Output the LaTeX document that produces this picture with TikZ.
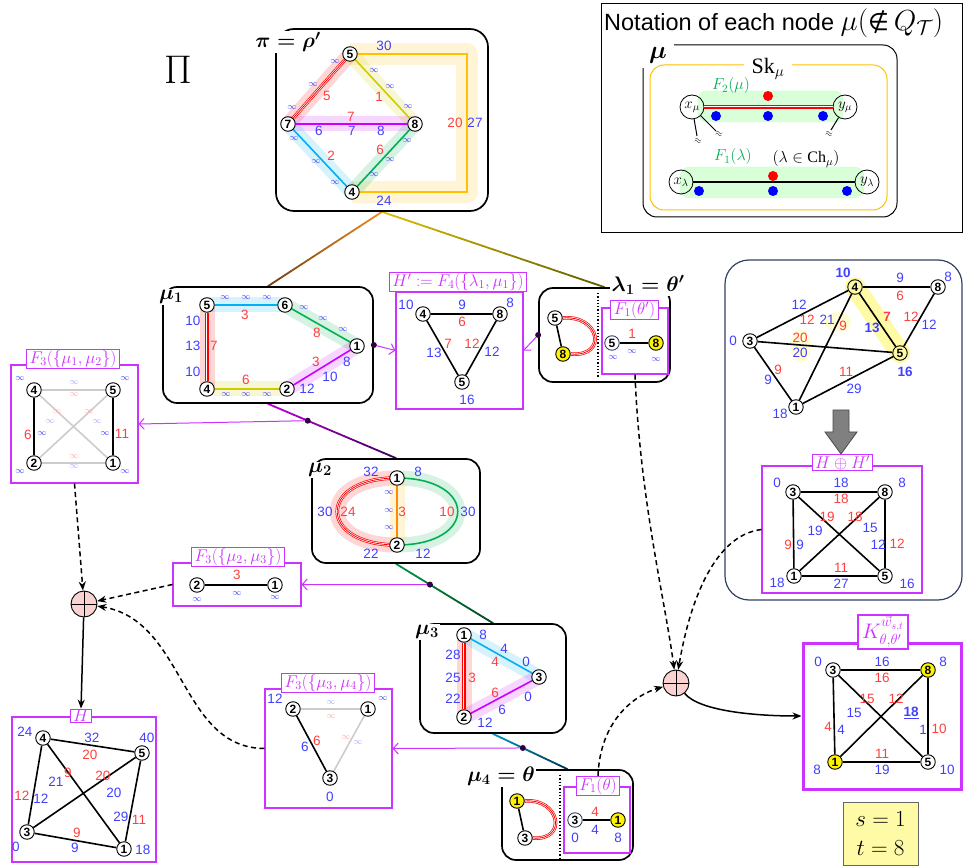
\RequirePackage{fix-cm}
\documentclass[tikz,border=0pt]{standalone}
\usepackage{amsmath,amssymb}
\usepackage{fontspec}
\setmainfont{Liberation Sans}
\newfontfamily\serifA{Liberation Serif}
\newfontfamily\symfont{DejaVu Sans}
\usetikzlibrary{calc,arrows.meta}
\definecolor{lblue}{RGB}{64,64,255}
\definecolor{lred}{RGB}{255,64,64}
\definecolor{mag}{RGB}{204,51,255}
\definecolor{epur}{RGB}{204,0,255}
\definecolor{ecyan}{RGB}{0,176,240}
\definecolor{egreen}{RGB}{0,176,80}
\definecolor{eolive}{RGB}{204,204,0}
\definecolor{eorange}{RGB}{255,192,0}
\definecolor{navy}{RGB}{50,64,100}
\definecolor{dpur}{RGB}{48,0,64}
\definecolor{pinkf}{RGB}{250,210,210}
\definecolor{fgreen}{RGB}{0,176,80}
\definecolor{cbrown}{RGB}{110,60,20}
\definecolor{corange}{RGB}{235,140,30}
\definecolor{cyel}{RGB}{220,190,0}
\definecolor{colive}{RGB}{90,90,0}
\definecolor{cmag}{RGB}{190,0,220}
\definecolor{cdpur}{RGB}{60,0,80}
\definecolor{cgreen}{RGB}{0,150,70}
\definecolor{cdgreen}{RGB}{0,70,30}
\definecolor{ccyan}{RGB}{0,150,200}
\definecolor{cteal}{RGB}{0,50,70}
\pgfdeclarelayer{back}
\pgfdeclarelayer{mid}
\pgfsetlayers{back,mid,main}
\newcounter{lb}
\newcommand\NB[3][]{\stepcounter{lb}\node[bl,#1] (lb\arabic{lb}) at (#2) {#3};}
\newcommand\NR[3][]{\stepcounter{lb}\node[rd,#1] (lb\arabic{lb}) at (#2) {#3};}
\newcommand\NI[1]{\stepcounter{lb}\node[inf] (lb\arabic{lb}) at (#1) {$\infty$};}
\newcommand\FR[1]{\stepcounter{lb}\node[inf,text=lred!45] (lb\arabic{lb}) at (#1) {$\infty$};}
\newcommand\FB[1]{\stepcounter{lb}\node[inf,text=lblue!45] (lb\arabic{lb}) at (#1) {$\infty$};}
% colour-graded connector between two anchors
\newcommand\gradline[4]{%
  \foreach \gi in {0,...,19}{%
    \pgfmathtruncatemacro\gp{100-\gi*5}%
    \draw[line width=1.8pt,line cap=round,draw=#3!\gp!#4] ($(#1)!\gi/20!(#2)$) -- ($(#1)!{(\gi+1)/20}!(#2)$);}}
\begin{document}
\begin{tikzpicture}[x=1pt,y=-1pt,
  vtx/.style={circle,draw,line width=0.9pt,fill=white,inner sep=0pt,minimum size=14.5pt,font=\fontsize{12}{12}\selectfont\bfseries},
  yvtx/.style={vtx,fill=yellow},
  hvtx/.style={vtx,fill=yellow!35},
  bl/.style={text=lblue,inner sep=0pt,font=\fontsize{13.5}{13.5}\selectfont},
  rd/.style={text=lred,inner sep=0pt,font=\fontsize{13.5}{13.5}\selectfont},
  bb/.style={font=\fontsize{13.5}{13.5}\selectfont\bfseries},
  inf/.style={text=lblue,inner sep=0pt,font=\fontsize{9}{9}\selectfont},
  ed/.style={line width=1.6pt},
  ged/.style={line width=1.6pt,black!20},
  band/.style={line width=15pt,line cap=round,line join=round,opacity=0.16},
  tri/.style={draw=red,line width=3.6pt,postaction={draw=white,line width=2.2pt},postaction={draw=red,line width=0.8pt}},
  bx/.style={draw,line width=1.7pt,rounded corners=14pt,inner sep=0pt},
  mbx/.style={draw=mag,line width=1.1pt,inner sep=0pt},
  mtl/.style={draw=mag,line width=1.1pt,fill=white,text=mag,inner xsep=3pt,inner ysep=1pt,font=\fontsize{17}{17}\selectfont},
  blab/.style={fill=white,inner sep=1.5pt,font=\fontsize{21}{21}\selectfont},
  jdot/.style={circle,fill=dpur,inner sep=0pt,minimum size=6pt},
  parr/.style={draw=mag,line width=1pt,-{Straight Barb[length=5pt,width=11pt]}},
  darr/.style={line width=1.5pt,dash pattern=on 5pt off 3.5pt,-{Stealth[length=9pt,width=7pt]}},
  sarr/.style={line width=1.5pt,-{Stealth[length=9pt,width=7pt]}},
  oplus/.style={circle,draw,line width=0.9pt,fill=pinkf,minimum size=26pt,inner sep=0pt,
     path picture={\draw[line width=0.9pt] (path picture bounding box.north) -- (path picture bounding box.south)
        (path picture bounding box.west) -- (path picture bounding box.east);}},
  rdot/.style={circle,fill=red,inner sep=0pt,minimum size=10pt},
  bdot/.style={circle,fill=blue,inner sep=0pt,minimum size=10pt},
  ring/.style={circle,draw,line width=0.8pt,inner sep=0pt,minimum size=24pt,font=\fontsize{15}{15}\selectfont},
]
\path[use as bounding box] (0,0) rectangle (964,866);

% ================= Pi =================
\node[font=\fontsize{40}{40}\selectfont] (bigpi) at (178,70) {$\Pi$};
\node[bx,rounded corners=18pt,minimum width=212pt,minimum height=182pt] (PI) at (382,120) {};
\node[blab] (PIlab) at (288,42) {$\boldsymbol{\pi=\rho'}$};
\node[vtx] (p5) at (350,54) {5};
\node[vtx] (p7) at (288,124) {7};
\node[vtx] (p8) at (415,124) {8};
\node[vtx] (p4) at (352,192) {4};
\coordinate (pc1) at (467,54);
\coordinate (pc2) at (467,192);
\begin{pgfonlayer}{back}
  \draw[band,eorange,line width=22pt,line cap=butt] (p5.center) -- (pc1) -- (pc2) -- (p4.center);
  \draw[band,red] (p5.center) -- (p7.center);
  \draw[band,eolive] (p5.center) -- (p8.center);
  \draw[band,epur] (p7.center) -- (p8.center);
  \draw[band,ecyan] (p7.center) -- (p4.center);
  \draw[band,egreen] (p4.center) -- (p8.center);
\end{pgfonlayer}
\begin{pgfonlayer}{mid}
  \draw[tri] (p5) -- (p7);
  \draw[ed,eolive] (p5) -- (p8);
  \draw[ed,epur] (p7) -- (p8);
  \draw[ed,ecyan] (p7) -- (p4);
  \draw[ed,egreen] (p4) -- (p8);
  \draw[ed,eorange] (p5) -- (pc1) -- (pc2) -- (p4);
\end{pgfonlayer}
\NB{384,46}{30}
\NI{335,62} \NI{313,85} \NR{327,96}{5} \NI{292,108}
\NI{374,71} \NR{379,97}{1} \NI{390,87} \NI{408,107}
\NR{351,117}{7} \NB{319,131}{6} \NB{352,131}{7} \NB{381,131}{8}
\NI{294,139} \NI{316,162} \NR{331,156}{2} \NI{335,183}
\NR{380,150}{6} \NI{407,141} \NI{390,160} \NI{374,175}
\NR{455,123}{20} \NB{475,123}{27}
\NB{384,201}{24}

% ================= notation panel =================
\node[draw,line width=1pt,minimum width=361pt,minimum height=229pt,inner sep=0pt] (NOTE) at (781.5,118.5) {};
\node[anchor=west,inner sep=0pt,font=\fontsize{23.5}{23.5}\selectfont] (notet) at (604,23) {Notation of each node {\fontsize{29}{29}\selectfont$\mu(\text{\symfont\fontsize{24}{24}\selectfont ∉}\,Q_{\mathcal{T}})$}};
\node[draw,line width=1pt,rounded corners=14pt,minimum width=254pt,minimum height=172pt,inner sep=0pt] (MU) at (770,131) {};
\node[fill=white,inner sep=0pt,minimum width=32pt,minimum height=26pt,font=\fontsize{25}{25}\selectfont] (MUlab) at (658,55) {$\boldsymbol{\mu}$};
\node[draw=eorange,line width=1pt,rounded corners=14pt,minimum width=237pt,minimum height=145pt,inner sep=0pt] (SK) at (768.5,137.5) {};
\node[fill=white,inner xsep=8pt,inner ysep=2pt,font=\fontsize{22}{22}\selectfont] (SKlab) at (768,69) {{\serifA Sk}$_\mu$};
\node[fill=green!15,draw=green!25,rounded corners=9pt,minimum width=145pt,minimum height=31pt,inner sep=0pt] (F2b) at (770.5,106.5) {};
\node[fill=green!15,draw=green!25,rounded corners=10pt,minimum width=184pt,minimum height=31pt,inner sep=0pt] (F1b) at (772,182.5) {};
\node[ring] (xmu) at (692,107) {$x_\mu$};
\node[ring] (ymu) at (845,107) {$y_\mu$};
\node[ring] (xlam) at (681,182) {$x_\lambda$};
\node[ring] (ylam) at (867,182) {$y_\lambda$};
\draw[tri] (xmu) -- (ymu);
\draw[line width=1.2pt] (xlam) -- (ylam);
\node[rdot] (rdA) at (768,96) {};
\node[bdot] (bdA) at (716,116) {};
\node[bdot] (bdB) at (768,116) {};
\node[bdot] (bdC) at (823,116) {};
\node[rdot] (rdB) at (773,176) {};
\node[bdot] (bdD) at (699,191) {};
\node[bdot] (bdE) at (773,191) {};
\node[bdot] (bdF) at (847,191) {};
\coordinate (tk1) at (697,136);
\coordinate (tk2) at (716,131);
\coordinate (tk3) at (831,130);
\draw[line width=1pt] (xmu) -- (tk1);
\draw[line width=1pt] (xmu) -- (tk2);
\draw[line width=1pt] (ymu) -- (tk3);
\node[font=\fontsize{9}{9}\selectfont,rotate=-15,inner sep=0pt] (ap1) at (698,141) {$\approx$};
\node[font=\fontsize{9}{9}\selectfont,rotate=-15,inner sep=0pt] (ap2) at (719,134) {$\approx$};
\node[font=\fontsize{9}{9}\selectfont,rotate=-15,inner sep=0pt] (ap3) at (829,134) {$\approx$};
\node[text=fgreen,font=\fontsize{16}{16}\selectfont] (F2t) at (731,86) {$F_2(\mu)$};
\node[text=fgreen,font=\fontsize{16}{16}\selectfont] (F1t) at (733,157) {$F_1(\lambda)$};
\node[font=\fontsize{16}{16}\selectfont] (Cht) at (806,159) {$(\lambda\in\text{\serifA Ch}_\mu)$};

% ================= mu_1 =================
\node[bx,minimum width=210pt,minimum height=116pt] (M1) at (268,345) {};
\node[blab] (M1lab) at (171,297) {$\boldsymbol{\mu_1}$};
\node[vtx] (a5) at (207,305) {5};
\node[vtx] (a6) at (285,305) {6};
\node[vtx] (a1) at (357,346) {1};
\node[vtx] (a2) at (287,389) {2};
\node[vtx] (a4) at (207,389) {4};
\begin{pgfonlayer}{back}
  \draw[band,ecyan] (a5.center) -- (a6.center);
  \draw[band,egreen] (a6.center) -- (a1.center);
  \draw[band,epur] (a1.center) -- (a2.center);
  \draw[band,eolive] (a4.center) -- (a2.center);
  \draw[band,red] (a5.center) -- (a4.center);
\end{pgfonlayer}
\begin{pgfonlayer}{mid}
  \draw[ed,ecyan] (a5) -- (a6);
  \draw[ed,egreen] (a6) -- (a1);
  \draw[ed,epur] (a1) -- (a2);
  \draw[ed,eolive] (a4) -- (a2);
  \draw[tri] (a5) -- (a4);
\end{pgfonlayer}
\NI{225,298} \NI{246,298} \NI{267,298} \NR{245,315}{3}
\NI{304,308} \NI{323,319} \NI{343,330} \NR{317,333}{8}
\NR{316,362}{3} \NB{330,377}{10} \NB{347,362}{8} \NB{307,389}{12}
\NR{246,380}{6} \NI{226,395} \NI{246,395} \NI{267,395}
\NB{193,321}{10} \NB{193,346}{13} \NB{193,372}{10} \NR{214,346}{7}

% ================= H' =================
\node[mbx,minimum width=127pt,minimum height=117pt] (HP) at (459.5,350.5) {};
\node[mtl] (tHP) at (458,282) {$H'\mathrel{:=}F_4(\{\lambda_1,\mu_1\})$};
\node[vtx] (hp4) at (423,314) {4};
\node[vtx] (hp8) at (500,314) {8};
\node[vtx] (hp5) at (462,382) {5};
\begin{pgfonlayer}{mid}
  \draw[ed] (hp4) -- (hp8) -- (hp5) -- (hp4);
\end{pgfonlayer}
\NB{406,305}{10} \NB{510,303}{8} \NB{462,305}{9} \NR{462,322}{6}
\NB{434,353}{13} \NR{448,344}{7} \NR{472,344}{12} \NB{492,352}{12} \NB{467,400}{16}

% ================= lambda_1 =================
\node[bx,minimum width=131pt,minimum height=94pt] (L1) at (604.5,335) {};
\node[blab] (L1lab) at (648,285) {$\boldsymbol{\lambda_1=\theta'}$};
\node[vtx] (l5) at (555,318) {5};
\node[yvtx] (l8) at (563,354) {8};
\begin{pgfonlayer}{mid}
  \draw[ed] (l5) -- (l8);
  \draw[tri] (l5.east) to[out=5,in=-5,looseness=2.6] (l8.east);
\end{pgfonlayer}
\coordinate (dvA) at (598,293);
\coordinate (dvB) at (598,378);
\draw[line width=1.3pt,dotted] (dvA) -- (dvB);
\node[mbx,minimum width=66pt,minimum height=66pt] (FL) at (635,341) {};
\node[mtl] (tFL) at (634.5,310) {$F_1(\theta')$};
\node[vtx,draw=navy] (m5) at (612,343) {5};
\node[yvtx] (m8) at (656,343) {8};
\begin{pgfonlayer}{mid}
  \draw[line width=1.2pt] (m5) -- (m8);
\end{pgfonlayer}
\NR{632,334}{1} \NI{632,352} \NI{613,358} \NI{656,360}

% ================= large graph on the right =================
\node[draw=navy,line width=1.2pt,rounded corners=24pt,minimum width=237pt,minimum height=340pt,inner sep=0pt] (BIG) at (843.5,430) {};
\node[hvtx] (r4) at (855,287) {4};
\node[vtx] (r8) at (938,287) {8};
\node[vtx] (r3) at (750,341) {3};
\node[hvtx] (r5) at (900,353) {5};
\node[vtx] (r1) at (796,407) {1};
\begin{pgfonlayer}{back}
  \draw[line width=20pt,line cap=round,yellow,opacity=0.35] (r4.center) -- (r5.center);
  \fill[yellow,opacity=0.18] (838,322) ellipse (13 and 10);
  \fill[yellow,opacity=0.18] (801,346) ellipse (10 and 17);
\end{pgfonlayer}
\begin{pgfonlayer}{mid}
  \draw[ed] (r4) -- (r8);
  \draw[ed] (r4) -- (r3);
  \draw[ed] (r4) -- (r5);
  \draw[ed] (r4) -- (r1);
  \draw[ed] (r3) -- (r5);
  \draw[ed] (r3) -- (r1);
  \draw[ed] (r1) -- (r5);
  \draw[ed] (r8) -- (r5);
\end{pgfonlayer}
\NB[bb]{843,273}{10} \NB{900,278}{9} \NB{948,277}{8} \NR{900,296}{6}
\NB{799,305}{12} \NR{807,320}{12} \NB{827,320}{21} \NR{843,326}{9}
\NR[bb]{887,317}{7} \NB[bb]{872,328}{13} \NR{911,317}{12} \NB{929,325}{12}
\NB{733,341}{0} \NR{800,338}{20} \NB{800,353}{20} \NB[bb]{905,372}{16}
\NR{778,370}{9} \NB{768,380}{9} \NR{846,372}{11} \NB{854,389}{29} \NB{780,414}{18}
\draw[draw=black!70,fill=black!50,line width=0.8pt] (833,410) -- (849,410) -- (849,432) -- (857,432) -- (841,454) -- (825,432) -- (833,432) -- cycle;

% ================= H (+) H' =================
\node[mbx,minimum width=160pt,minimum height=127pt] (HH) at (842,529.5) {};
\node[mtl] (tHH) at (842.5,462.5) {$H\oplus H'$};
\node[vtx] (s3) at (793,492) {3};
\node[vtx] (s8) at (885,492) {8};
\node[vtx] (s1) at (794,576) {1};
\node[vtx] (s5) at (885,576) {5};
\begin{pgfonlayer}{mid}
  \draw[ed] (s3) -- (s8);
  \draw[ed] (s3) -- (s1);
  \draw[ed] (s8) -- (s5);
  \draw[ed] (s1) -- (s5);
  \draw[ed] (s3) -- (s5);
  \draw[ed] (s1) -- (s8);
\end{pgfonlayer}
\NB{777,483}{0} \NB{841,483}{18} \NB{902,483}{8} \NR{841,499}{18}
\NR{827,517}{19} \NR{855,517}{18} \NB{815,531}{19} \NB{870,528}{15}
\NR{788,545}{9} \NB{800,545}{9} \NB{878,545}{12} \NR{897,544}{12}
\NR{841,568}{11} \NB{841,584}{27} \NB{777,583}{18} \NB{907,584}{16}

% ================= K =================
\node[draw=mag,line width=3pt,minimum width=158pt,minimum height=146pt,inner sep=0pt] (K) at (882,716) {};
\node[mtl,line width=2.2pt,inner xsep=4pt,inner ysep=1.5pt,font=\fontsize{21}{21}\selectfont] (tK) at (883,632) {$K^{\vec{w}_{s,t}}_{\theta,\theta'}$};
\node[vtx] (k3) at (833,670) {3};
\node[yvtx] (k8) at (928,670) {8};
\node[yvtx] (k1) at (835,762) {1};
\node[vtx] (k5) at (928,762) {5};
\begin{pgfonlayer}{mid}
  \draw[ed] (k3) -- (k8);
  \draw[ed] (k3) -- (k1);
  \draw[ed] (k8) -- (k5);
  \draw[ed] (k1) -- (k5);
  \draw[ed] (k3) -- (k5);
  \draw[ed] (k1) -- (k8);
\end{pgfonlayer}
\NB{818,662}{0} \NB{882,662}{16} \NB{943,662}{8} \NR{882,678}{16}
\NR{867,699}{15} \NR{896,699}{12} \NB{854,713}{15} \NB[bb]{911,713}{\underline{18}}
\NR{828,727}{4} \NB{841,730}{4} \NB{923,730}{1} \NR{939,729}{10}
\NR{882,754}{11} \NB{882,770}{19} \NB{817,770}{8} \NB{947,770}{10}
\node[draw=black!60,fill=yellow!35,minimum width=75pt,minimum height=63pt,align=center,font=\fontsize{23}{29}\selectfont] (ST) at (880.5,833.5) {$s=1$\\$t=8$};

% ================= F3({mu1,mu2}) =================
\node[mbx,minimum width=127pt,minimum height=118pt] (F12) at (74.5,424) {};
\node[mtl] (tF12) at (73,359) {$F_3(\{\mu_1,\mu_2\})$};
\node[vtx] (f4) at (34,390) {4};
\node[vtx] (f5) at (113,390) {5};
\node[vtx] (f2) at (34,463) {2};
\node[vtx] (f1) at (113,463) {1};
\begin{pgfonlayer}{mid}
  \draw[ged] (f4) -- (f5);
  \draw[ged] (f2) -- (f1);
  \draw[ged] (f4) -- (f1);
  \draw[ged] (f2) -- (f5);
  \draw[ed] (f4) -- (f2);
  \draw[ed] (f5) -- (f1);
\end{pgfonlayer}
\NI{20,379} \NI{125,379} \FB{74,383} \FR{74,395} \FR{57,412} \FR{89,412} \FB{50,422} \FB{97,422}
\NR{28,435}{6} \NI{42,434} \NI{105,434} \NR{122,434}{11}
\FR{74,457} \FB{74,467} \NI{20,472} \NI{125,472}

% ================= mu_2 =================
\node[bx,minimum width=168pt,minimum height=104pt] (M2) at (396,511) {};
\node[blab] (M2lab) at (320,470) {$\boldsymbol{\mu_2}$};
\node[vtx] (b1) at (397,478) {1};
\node[vtx] (b2) at (397,545) {2};
\begin{pgfonlayer}{back}
  \draw[band,red] (b1.center) to[out=180,in=180,looseness=3.05] (b2.center);
  \draw[band,egreen] (b1.center) to[out=0,in=0,looseness=3.1] (b2.center);
  \draw[band,eorange,line cap=butt] (b1.center) -- (b2.center);
\end{pgfonlayer}
\begin{pgfonlayer}{mid}
  \draw[tri] (b1.center) to[out=180,in=180,looseness=3.05] (b2.center);
  \draw[ed,egreen] (b1.center) to[out=0,in=0,looseness=3.1] (b2.center);
  \draw[ed,orange!90!yellow] (b1) -- (b2);
\end{pgfonlayer}
\NB{371,472}{32} \NB{418,472}{8} \NB{325,512}{30} \NR{348,512}{24}
\NI{389,493} \NI{389,511} \NI{389,528} \NR{402,512}{3}
\NR{447,512}{10} \NB{468,512}{30} \NB{371,554}{22} \NB{423,554}{12}

% ================= F3({mu2,mu3}) =================
\node[mbx,minimum width=128pt,minimum height=43pt] (F23) at (237,584.5) {};
\node[mtl] (tF23) at (238,557) {$F_3(\{\mu_2,\mu_3\})$};
\node[vtx] (g2) at (197,585) {2};
\node[vtx] (g1) at (275,585) {1};
\begin{pgfonlayer}{mid}
  \draw[ed] (g2) -- (g1);
\end{pgfonlayer}
\NR{237,575}{3} \NI{237,594} \NI{197,600} \NI{275,598}

% ================= mu_3 =================
\node[bx,minimum width=146pt,minimum height=109pt] (M3) at (493,678.5) {};
\node[blab] (M3lab) at (427,632) {$\boldsymbol{\mu_3}$};
\node[vtx] (c1) at (464,635) {1};
\node[vtx] (c3) at (539,677) {3};
\node[vtx] (c2) at (464,717) {2};
\begin{pgfonlayer}{back}
  \draw[band,red] (c1.center) -- (c2.center);
  \draw[band,ecyan] (c1.center) -- (c3.center);
  \draw[band,epur] (c2.center) -- (c3.center);
\end{pgfonlayer}
\begin{pgfonlayer}{mid}
  \draw[tri] (c1) -- (c2);
  \draw[ed,ecyan] (c1) -- (c3);
  \draw[ed,epur] (c2) -- (c3);
\end{pgfonlayer}
\NB{483,635}{8} \NB{504,649}{4} \NB{526,662}{0} \NR{495,662}{4}
\NB{453,655}{28} \NB{453,678}{25} \NB{453,699}{22} \NR{472,678}{3}
\NR{495,693}{6} \NB{528,697}{0} \NB{502,710}{6} \NB{485,723}{12}

% ================= F3({mu3,mu4}) =================
\node[mbx,minimum width=127pt,minimum height=119pt] (F34) at (328.5,748.5) {};
\node[mtl] (tF34) at (328,683) {$F_3(\{\mu_3,\mu_4\})$};
\node[vtx] (q2) at (293,709) {2};
\node[vtx] (q1) at (368,709) {1};
\node[vtx] (q3) at (330,778) {3};
\begin{pgfonlayer}{mid}
  \draw[ged] (q2) -- (q1);
  \draw[ged] (q1) -- (q3);
  \draw[ed] (q2) -- (q3);
\end{pgfonlayer}
\NB{275,699}{12} \NI{383,699} \FB{331,703} \FR{331,717}
\NR{317,741}{6} \NB{305,747}{6} \FR{346,738} \FB{358,743} \NB{330,797}{0}

% ================= H =================
\node[mbx,minimum width=144pt,minimum height=145pt] (HB) at (84,789.5) {};
\node[mtl] (tHB) at (81,716) {$H$};
\node[vtx] (h4) at (43,738) {4};
\node[vtx] (h5) at (142,753) {5};
\node[vtx] (h3) at (27,832) {3};
\node[vtx] (h1) at (124,849) {1};
\begin{pgfonlayer}{mid}
  \draw[ed] (h4) -- (h5);
  \draw[ed] (h4) -- (h3);
  \draw[ed] (h4) -- (h1);
  \draw[ed] (h5) -- (h3);
  \draw[ed] (h5) -- (h1);
  \draw[ed] (h3) -- (h1);
\end{pgfonlayer}
\NB{25,732}{24} \NB{92,738}{32} \NB{147,738}{40} \NR{90,755}{20}
\NB{56,782}{21} \NR{68,773}{9} \NR{103,776}{20} \NB{114,793}{20}
\NR{22,796}{12} \NB{41,799}{12} \NB{121,817}{29} \NR{139,820}{11}
\NR{77,833}{9} \NB{75,848}{9} \NB{16,847}{0} \NB{143,850}{18}

% ================= mu_4 =================
\node[bx,minimum width=131pt,minimum height=90pt] (M4) at (567.5,815) {};
\node[blab] (M4lab) at (501,776) {$\boldsymbol{\mu_4=\theta}$};
\node[yvtx] (d1) at (517,801) {1};
\node[vtx] (d3) at (525,838) {3};
\begin{pgfonlayer}{mid}
  \draw[ed] (d1) -- (d3);
  \draw[tri] (d1.east) to[out=5,in=-5,looseness=2.4] (d3.east);
\end{pgfonlayer}
\coordinate (dvC) at (560,775);
\coordinate (dvD) at (560,858);
\draw[line width=1.3pt,dotted] (dvC) -- (dvD);
\node[mbx,minimum width=66pt,minimum height=66pt] (FT) at (597,820) {};
\node[mtl] (tFT) at (598,786) {$F_1(\theta)$};
\node[vtx,draw=navy] (e3) at (575,820) {3};
\node[yvtx] (e1) at (618,820) {1};
\begin{pgfonlayer}{mid}
  \draw[line width=1.2pt] (e3) -- (e1);
\end{pgfonlayer}
\NR{595,812}{4} \NB{595,830}{4} \NB{575,838}{0} \NB{618,838}{8}

% ================= combination nodes =================
\node[oplus] (oL) at (84,604) {};
\node[oplus] (oR) at (676,683) {};

% ================= connectors of the tree =================
\begin{pgfonlayer}{mid}
  \gradline{PI.south}{M1.north}{corange}{cbrown}
  \gradline{PI.south}{L1.north}{cyel}{colive}
  \gradline{M1.south}{M2.north}{cmag}{cdpur}
  \gradline{M2.south}{M3.north}{cgreen}{cdgreen}
  \gradline{M3.south}{M4.north}{ccyan}{cteal}
\end{pgfonlayer}
\node[jdot] (j1) at (M1.east) {};
\node[jdot] (j2) at (L1.west) {};
\node[jdot] (j12) at ($(M1.south)!0.31!(M2.north)$) {};
\node[jdot] (j23) at ($(M2.south)!0.35!(M3.north)$) {};
\node[jdot] (j34) at ($(M3.south)!0.40!(M4.north)$) {};
\draw[parr] (j1) -- (HP.west);
\draw[parr] (j2) -- (HP.east);
\draw[parr] (j12) -- (F12.east);
\draw[parr] (j23) -- (F23.east);
\draw[parr] (j34) -- (F34.east);

% ================= merging arrows =================
\draw[darr] (F12.south) -- (oL);
\draw[darr] (F23.west) -- (oL);
\draw[darr] (F34.west) .. controls (180,748) and (185,620) .. (oL);
\draw[sarr] (oL) -- (tHB.north);
\draw[darr] (FL.south) .. controls (640,500) and (665,600) .. (oR);
\draw[darr] (HH.west) .. controls (715,535) and (690,600) .. (oR);
\draw[darr] (tFT.north) .. controls (600,720) and (635,695) .. (oR);
\draw[sarr] (oR) .. controls (700,712) and (760,716) .. (K.west);
\end{tikzpicture}
\end{document}
